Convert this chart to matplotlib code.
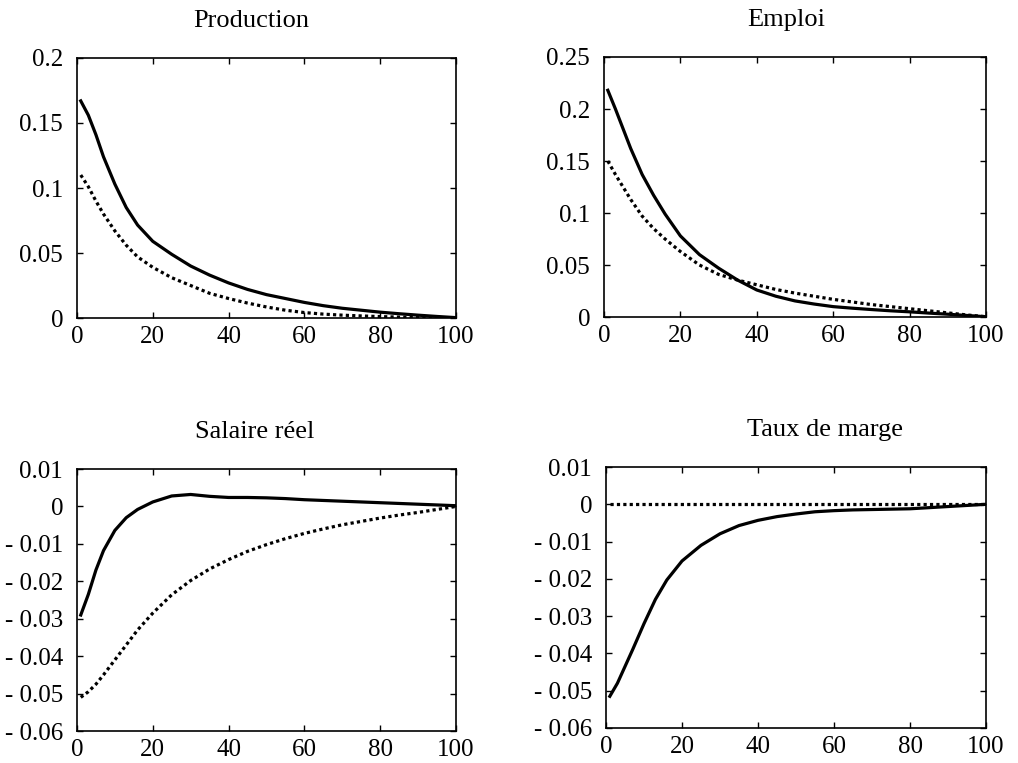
"""
impulse responses: production, emploi, salaire reel, taux de marge
"""
import numpy as np
import matplotlib
matplotlib.use('Agg')
from matplotlib import pyplot as plt
from matplotlib.ticker import FuncFormatter

plt.rcParams['font.family'] = ['Liberation Serif', 'DejaVu Serif']

periods = [1, 3, 5, 7, 10, 13, 16, 20, 25, 30, 35, 40, 45, 50, 55, 60, 65, 70, 75, 80, 85, 90, 95, 100]

production_solid = [0.167, 0.156, 0.141, 0.124, 0.103, 0.085, 0.0715, 0.059, 0.049, 0.040, 0.033, 0.027,
                    0.022, 0.018, 0.015, 0.012, 0.0095, 0.0075, 0.006, 0.0045, 0.0033, 0.0022, 0.0012, 0.0003]
production_dotted = [0.110, 0.101, 0.090, 0.080, 0.067, 0.056, 0.047, 0.039, 0.031, 0.025, 0.019, 0.015,
                     0.0115, 0.0085, 0.006, 0.0042, 0.003, 0.0022, 0.0016, 0.0011, 0.0007, 0.0004, 0.0002, 0.0]

emploi_solid = [0.218, 0.200, 0.181, 0.162, 0.137, 0.117, 0.099, 0.078, 0.060, 0.047, 0.0355, 0.026,
                0.020, 0.0155, 0.0125, 0.010, 0.0085, 0.0072, 0.006, 0.005, 0.0038, 0.0027, 0.0015, 0.0003]
emploi_dotted = [0.150, 0.137, 0.125, 0.113, 0.097, 0.085, 0.075, 0.063, 0.050, 0.041, 0.0355, 0.031,
                 0.0265, 0.023, 0.020, 0.017, 0.0145, 0.012, 0.010, 0.008, 0.006, 0.004, 0.002, 0.0003]

salaire_solid = [-0.029, -0.0235, -0.017, -0.0118, -0.0064, -0.003, -0.0008, 0.0012, 0.0028, 0.0032, 0.0027, 0.0024,
                 0.0024, 0.0023, 0.0021, 0.0018, 0.0016, 0.0014, 0.0012, 0.001, 0.0008, 0.0006, 0.0004, 0.0002]
salaire_dotted = [-0.051, -0.0495, -0.0475, -0.045, -0.041, -0.037, -0.033, -0.0285, -0.0236, -0.0198, -0.0167, -0.0142,
                  -0.012, -0.0102, -0.0086, -0.0072, -0.006, -0.0049, -0.004, -0.0031, -0.0023, -0.0016, -0.0008, 0.0]

marge_solid = [-0.0515, -0.048, -0.0435, -0.039, -0.032, -0.0255, -0.0203, -0.0152, -0.011, -0.0079, -0.0057, -0.0043,
               -0.0033, -0.0026, -0.002, -0.0017, -0.0015, -0.0014, -0.0013, -0.0012, -0.0009, -0.0006, -0.0003, 0.0]
marge_dotted = [0.0] * len(periods)

titles = ['Production', 'Emploi', 'Salaire réel', 'Taux de marge']
x_ticks = [0, 20, 40, 60, 80, 100]
y_ticks = [
    [0, 0.05, 0.1, 0.15, 0.2],
    [0, 0.05, 0.1, 0.15, 0.2, 0.25],
    [-0.06, -0.05, -0.04, -0.03, -0.02, -0.01, 0, 0.01],
    [-0.06, -0.05, -0.04, -0.03, -0.02, -0.01, 0, 0.01],
]


def fmt(v, pos):
    if abs(v) < 1e-12:
        return '0'
    if v < 0:
        return '- %g' % abs(v)
    return '%g' % v


def plot_panel(ax, solid, dotted, title, yt, title_x):
    ax.plot(periods, solid, color='black', lw=2.3)
    ax.plot(periods, dotted, color='black', lw=2.3, linestyle=(0, (1, 1)))
    ax.set_xlim(0, 100)
    ax.set_ylim(yt[0], yt[-1])
    ax.set_xticks(x_ticks)
    ax.set_yticks(yt)
    ax.yaxis.set_major_formatter(FuncFormatter(fmt))
    ax.tick_params(direction='in', top=True, right=True, length=4, width=1, labelsize=18)
    ax.tick_params(axis='y', pad=10)
    ax.tick_params(axis='x', pad=6)
    for sp in ax.spines.values():
        sp.set_linewidth(1.2)
    ax.set_title(title, fontsize=19, pad=22, x=title_x)


fig = plt.figure(figsize=(10.18, 7.63), dpi=100)
ax1 = fig.add_axes([0.0756, 0.5832, 0.3723, 0.3408])
ax2 = fig.add_axes([0.5933, 0.5845, 0.3752, 0.3408])
ax3 = fig.add_axes([0.0756, 0.0419, 0.3723, 0.3434])
ax4 = fig.add_axes([0.5953, 0.0459, 0.3733, 0.3420])

plot_panel(ax1, production_solid, production_dotted, titles[0], y_ticks[0], 0.459)
plot_panel(ax2, emploi_solid, emploi_dotted, titles[1], y_ticks[1], 0.476)
plot_panel(ax3, salaire_solid, salaire_dotted, titles[2], y_ticks[2], 0.470)
plot_panel(ax4, marge_solid, marge_dotted, titles[3], y_ticks[3], 0.576)

plt.savefig('out.png', dpi=100)
